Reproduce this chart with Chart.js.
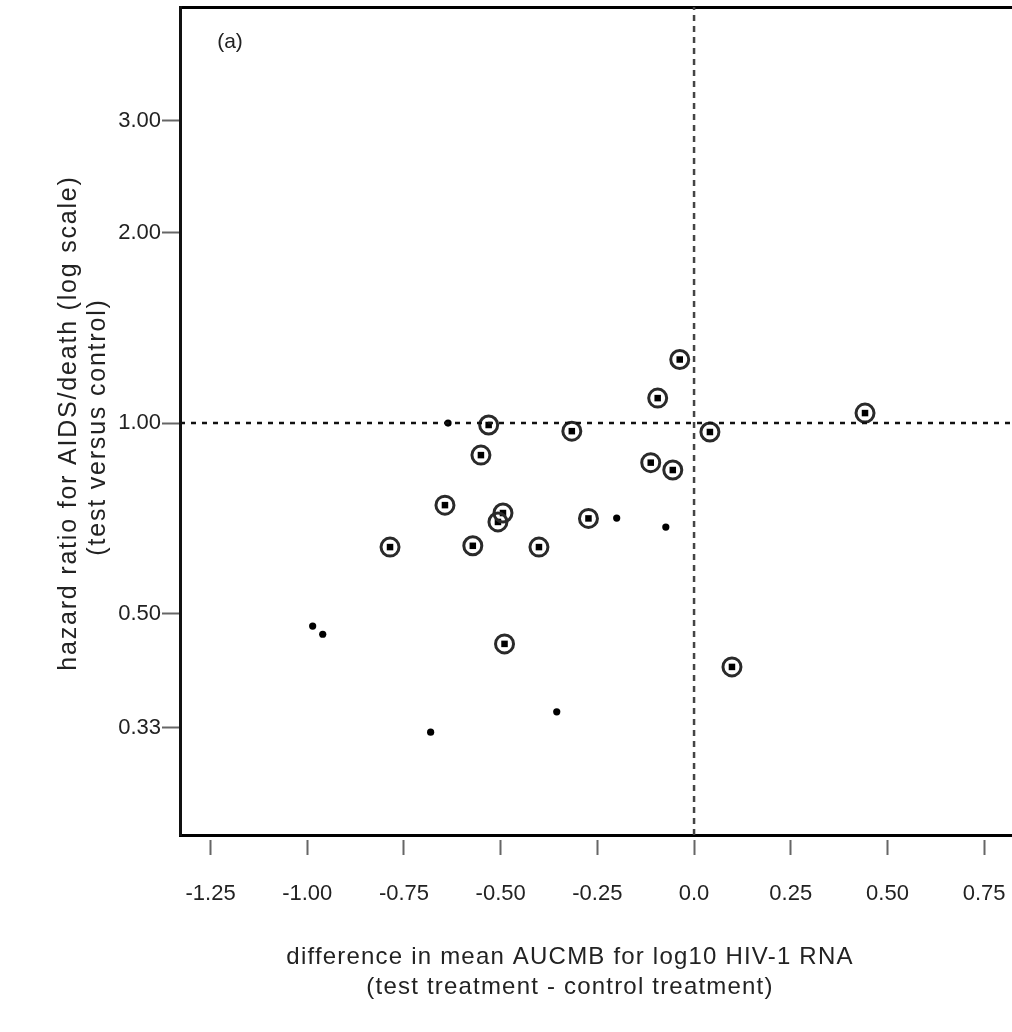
<!DOCTYPE html>
<html>
<head>
<meta charset="utf-8">
<script src="https://cdn.jsdelivr.net/npm/chart.js@4.4.1/dist/chart.umd.min.js"></script>
<style>
  html, body { margin: 0; padding: 0; background: #fff; overflow: hidden; }
  #wrap { width: 1012px; height: 1032px; position: relative; }
</style>
</head>
<body>
<div id="wrap"><canvas id="grafico"></canvas></div>
<script>
// estudos com marca (círculo)
const circX = [-0.037, -0.094, 0.442, -0.531, -0.316, 0.041, -0.551, -0.112, -0.055,
  -0.644, -0.494, -0.507, -0.273, -0.786, -0.572, -0.401, -0.490, 0.098]
const circHR = [1.26, 1.095, 1.037, 0.993, 0.971, 0.968, 0.890, 0.866, 0.843,
  0.742, 0.721, 0.698, 0.707, 0.637, 0.640, 0.637, 0.448, 0.412]

// estudos sem marca
const dotX = [-0.636, -0.200, -0.073, -0.986, -0.960, -0.355, -0.681]
const dotHR = [1.00, 0.708, 0.685, 0.478, 0.464, 0.350, 0.325]

const xTicks = [-1.25, -1.00, -0.75, -0.50, -0.25, 0.0, 0.25, 0.50, 0.75]
const xTickLabels = ["-1.25", "-1.00", "-0.75", "-0.50", "-0.25", "0.0", "0.25", "0.50", "0.75"]
const yTicks = [0.33, 0.50, 1.00, 2.00, 3.00]
const yTickLabels = ["0.33", "0.50", "1.00", "2.00", "3.00"]

const xMin = -1.329, xMax = 0.822
const yMin = 0.2236, yMax = 4.54

const tituloX = ["difference in mean AUCMB for log10 HIV-1 RNA", "(test treatment - control treatment)"]
const tituloY = ["hazard ratio for AIDS/death (log scale)", "(test versus control)"]
const painel = "(a)"

const fonte = "'Liberation Sans', Arial, sans-serif"
const corTexto = "#222"

function pontos(xs, ys) {
  return xs.map((x, i) => ({ x: x, y: ys[i] }))
}

function semPadding(s) {
  s.paddingLeft = 0
  s.paddingRight = 0
  s.paddingTop = 0
  s.paddingBottom = 0
}

const textosExtras = {
  id: 'textosExtras',
  afterDraw(chart) {
    const ctx = chart.ctx
    const area = chart.chartArea
    ctx.save()
    ctx.fillStyle = corTexto
    ctx.textAlign = 'center'
    ctx.textBaseline = 'middle'

    ctx.font = "24px " + fonte
    ctx.letterSpacing = "1.2px"
    const cx = area.left + 390
    ctx.fillText(tituloX[0], cx, area.bottom + 122)
    ctx.fillText(tituloX[1], cx, area.bottom + 152)

    ctx.font = "25px " + fonte
    ctx.letterSpacing = "1.8px"
    ctx.save()
    ctx.translate(area.left - 111, (area.top + area.bottom) / 2 + 2)
    ctx.rotate(-Math.PI / 2)
    ctx.fillText(tituloY[0], 0, 0)
    ctx.fillText(tituloY[1], -4, 29)
    ctx.restore()

    ctx.letterSpacing = "0px"
    ctx.font = "21px " + fonte
    ctx.fillText(painel, area.left + 50, area.top + 35)
    ctx.restore()
  }
}

new Chart(document.getElementById("grafico"), {
  type: 'scatter',
  data: {
    datasets: [
      {
        type: 'line',
        data: [{ x: xMin, y: 1 }, { x: xMax, y: 1 }],
        borderColor: '#111',
        borderWidth: 2.5,
        borderDash: [5, 6],
        pointRadius: 0
      },
      {
        type: 'line',
        data: [{ x: 0, y: yMin }, { x: 0, y: yMax }],
        borderColor: '#444',
        borderWidth: 2.5,
        borderDash: [6, 5],
        pointRadius: 0
      },
      {
        data: pontos(circX, circHR),
        pointStyle: 'circle',
        pointRadius: 9,
        borderWidth: 3,
        borderColor: '#2a2a2a',
        backgroundColor: 'rgba(0,0,0,0)'
      },
      {
        data: pontos(circX, circHR),
        pointStyle: 'rect',
        pointRadius: 4.6,
        borderWidth: 0,
        backgroundColor: '#000'
      },
      {
        data: pontos(dotX, dotHR),
        pointStyle: 'circle',
        pointRadius: 3.6,
        borderWidth: 0,
        backgroundColor: '#000'
      }
    ]
  },
  options: {
    responsive: true,
    maintainAspectRatio: false,
    animation: false,
    layout: { padding: 0, autoPadding: false },
    plugins: {
      legend: { display: false },
      tooltip: { enabled: false }
    },
    scales: {
      x: {
        type: 'linear',
        position: 'bottom',
        min: xMin,
        max: xMax,
        afterBuildTicks: s => { s.ticks = xTicks.map(v => ({ value: v })) },
        afterFit: s => { s.height = 197; semPadding(s) },
        ticks: {
          autoSkip: false,
          maxRotation: 0,
          padding: 26,
          color: corTexto,
          font: { family: fonte, size: 22 },
          callback: v => xTickLabels[xTicks.indexOf(v)]
        },
        grid: {
          drawOnChartArea: false,
          tickLength: 20,
          tickWidth: 2,
          tickColor: '#666',
          tickBorderDash: [0, 3, 18, 20]
        },
        border: { color: '#000', width: 3 }
      },
      topo: {
        type: 'linear',
        position: 'top',
        min: xMin,
        max: xMax,
        afterFit: s => { s.height = 7; semPadding(s) },
        ticks: { display: false },
        grid: { drawOnChartArea: false, drawTicks: false },
        border: { color: '#000', width: 3 }
      },
      y: {
        type: 'logarithmic',
        position: 'left',
        min: yMin,
        max: yMax,
        afterBuildTicks: s => { s.ticks = yTicks.map(v => ({ value: v })) },
        afterFit: s => { s.width = 180; semPadding(s) },
        ticks: {
          autoSkip: false,
          padding: 1,
          color: corTexto,
          font: { family: fonte, size: 22 },
          callback: v => yTickLabels[yTicks.indexOf(v)]
        },
        grid: {
          drawOnChartArea: false,
          tickLength: 18,
          tickWidth: 2,
          tickColor: '#666'
        },
        border: { color: '#111', width: 3 }
      }
    }
  },
  plugins: [textosExtras]
})
</script>
</body>
</html>
